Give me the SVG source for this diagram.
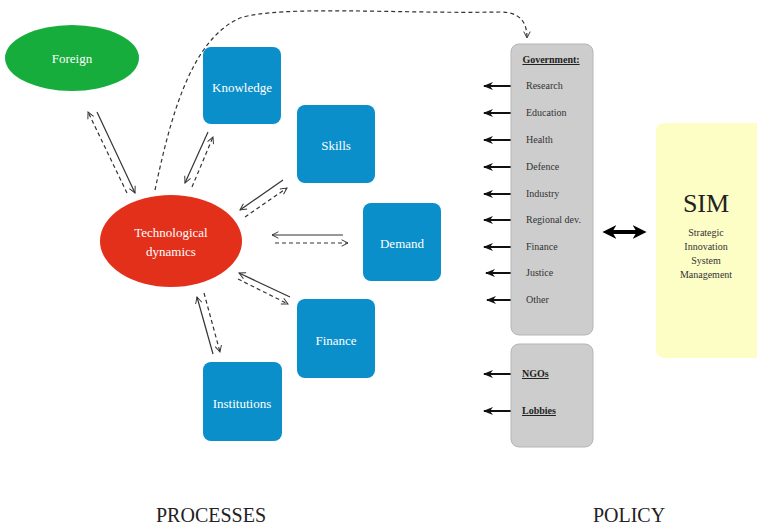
<svg xmlns="http://www.w3.org/2000/svg" width="757" height="526" viewBox="0 0 757 526">
<defs>
<style>
.lbl{font-family:"Liberation Serif","DejaVu Serif",serif;fill:#fff;font-size:13px;text-anchor:middle}
.box{fill:#0a8fca}
.pol{font-family:"Liberation Serif","DejaVu Serif",serif;fill:#333;font-size:10px}
.hd{font-family:"Liberation Serif","DejaVu Serif",serif;fill:#222;font-size:10px;font-weight:bold;text-decoration:underline}
.sol{stroke:#333;stroke-width:1.2;fill:none;marker-end:url(#open)}
.dash{stroke:#333;stroke-width:1.2;fill:none;stroke-dasharray:4,3;marker-end:url(#open)}
.garr{stroke:#111;stroke-width:2;fill:none;marker-end:url(#solid)}
.big{font-family:"Liberation Serif","DejaVu Serif",serif;fill:#222;font-size:20px;text-anchor:middle}
</style>
<marker id="open" viewBox="0 0 10 10" refX="9" refY="5" markerWidth="8" markerHeight="8" orient="auto" markerUnits="userSpaceOnUse">
<path d="M1,1 L9,5 L1,9" fill="none" stroke="#333" stroke-width="1.2"/>
</marker>
<marker id="solid" viewBox="0 0 10 10" refX="9" refY="5" markerWidth="10" markerHeight="10" orient="auto" markerUnits="userSpaceOnUse">
<path d="M0,1 L10,5 L0,9 L3,5 z" fill="#111"/>
</marker>
<marker id="big" viewBox="0 0 10 10" refX="6" refY="5" markerWidth="14" markerHeight="16" orient="auto-start-reverse" markerUnits="userSpaceOnUse">
<path d="M0,0 L10,5 L0,10 L3,5 z" fill="#000"/>
</marker>
</defs>
<rect width="757" height="526" fill="#fff"/>

<g id="connectors">
<path class="dash" d="M155,190 C170,120 190,40 240,18 C280,5 400,14 500,12 C520,12 527,22 527,38"/>
<line class="sol" x1="97" y1="112" x2="135" y2="193"/>
<line class="dash" x1="127" y1="193" x2="88" y2="112"/>
<line class="sol" x1="208" y1="132" x2="185" y2="183"/>
<line class="dash" x1="192" y1="187" x2="213" y2="137"/>
<line class="sol" x1="283" y1="180" x2="240" y2="210"/>
<line class="dash" x1="245" y1="217" x2="287" y2="188"/>
<line class="sol" x1="343" y1="235" x2="272" y2="235"/>
<line class="dash" x1="275" y1="243" x2="348" y2="243"/>
<line class="sol" x1="290" y1="297" x2="239" y2="273"/>
<line class="dash" x1="238" y1="279" x2="288" y2="304"/>
<line class="sol" x1="213" y1="354" x2="197" y2="297"/>
<line class="dash" x1="204" y1="293" x2="220" y2="352"/>
<g id="gov-arrows">
<line class="garr" x1="518" y1="86" x2="484" y2="86"/>
<line class="garr" x1="518" y1="113" x2="484" y2="113"/>
<line class="garr" x1="518" y1="140" x2="484" y2="140"/>
<line class="garr" x1="518" y1="167" x2="484" y2="167"/>
<line class="garr" x1="518" y1="194" x2="484" y2="194"/>
<line class="garr" x1="518" y1="220" x2="484" y2="220"/>
<line class="garr" x1="518" y1="247" x2="484" y2="247"/>
<line class="garr" x1="519" y1="273" x2="486" y2="273"/>
<line class="garr" x1="520" y1="300" x2="487" y2="300"/>
<line class="garr" x1="518" y1="374" x2="484" y2="374"/>
<line class="garr" x1="518" y1="411" x2="484" y2="411"/>
</g>
<line id="sim-arrow" x1="608" y1="232" x2="641" y2="232" stroke="#000" stroke-width="4" marker-start="url(#big)" marker-end="url(#big)"/>
</g>

<g id="foreign">
<ellipse cx="72" cy="58" rx="67" ry="33" fill="#17ad3d"/>
<text class="lbl" x="72" y="63">Foreign</text>
</g>
<g id="tech">
<ellipse cx="171" cy="241" rx="71" ry="46" fill="#e2301b"/>
<text class="lbl" x="171" y="237">Technological</text>
<text class="lbl" x="171" y="256">dynamics</text>
</g>
<g id="knowledge">
<rect class="box" x="203" y="47" width="78" height="77" rx="8"/>
<text class="lbl" x="242" y="92">Knowledge</text>
</g>
<g id="skills">
<rect class="box" x="297" y="105" width="78" height="78" rx="8"/>
<text class="lbl" x="336" y="150">Skills</text>
</g>
<g id="demand">
<rect class="box" x="363" y="203" width="78" height="78" rx="8"/>
<text class="lbl" x="402" y="248">Demand</text>
</g>
<g id="finance">
<rect class="box" x="297" y="299" width="78" height="79" rx="8"/>
<text class="lbl" x="336" y="345">Finance</text>
</g>
<g id="institutions">
<rect class="box" x="203" y="362" width="79" height="79" rx="8"/>
<text class="lbl" x="242" y="408">Institutions</text>
</g>

<g id="government">
<rect x="511" y="44" width="82" height="291" rx="8" fill="#cdcdcd" stroke="#b5b5b5" stroke-width="1"/>
<text class="hd" x="551" y="63" text-anchor="middle">Government:</text>
<text class="pol" x="526" y="89">Research</text>
<text class="pol" x="526" y="116">Education</text>
<text class="pol" x="526" y="143">Health</text>
<text class="pol" x="526" y="170">Defence</text>
<text class="pol" x="526" y="197">Industry</text>
<text class="pol" x="526" y="223">Regional dev.</text>
<text class="pol" x="526" y="250">Finance</text>
<text class="pol" x="526" y="276">Justice</text>
<text class="pol" x="526" y="303">Other</text>
</g>
<g id="ngo">
<rect x="511" y="344" width="82" height="103" rx="8" fill="#cdcdcd" stroke="#b5b5b5" stroke-width="1"/>
<text class="hd" x="522" y="377">NGOs</text>
<text class="hd" x="522" y="414">Lobbies</text>
</g>
<g id="sim">
<rect x="656" y="123" width="110" height="235" rx="8" fill="#fdfdc6"/>
<text x="706" y="212" font-family="Liberation Serif, DejaVu Serif, serif" font-size="26" fill="#222" text-anchor="middle">SIM</text>
<text class="pol" x="706" y="236" text-anchor="middle" font-size="9.5">Strategic</text>
<text class="pol" x="706" y="250" text-anchor="middle" font-size="9.5">Innovation</text>
<text class="pol" x="706" y="264" text-anchor="middle" font-size="9.5">System</text>
<text class="pol" x="706" y="278" text-anchor="middle" font-size="9.5">Management</text>
</g>

<text class="big" x="211" y="522">PROCESSES</text>
<text class="big" x="629" y="522">POLICY</text>
</svg>
